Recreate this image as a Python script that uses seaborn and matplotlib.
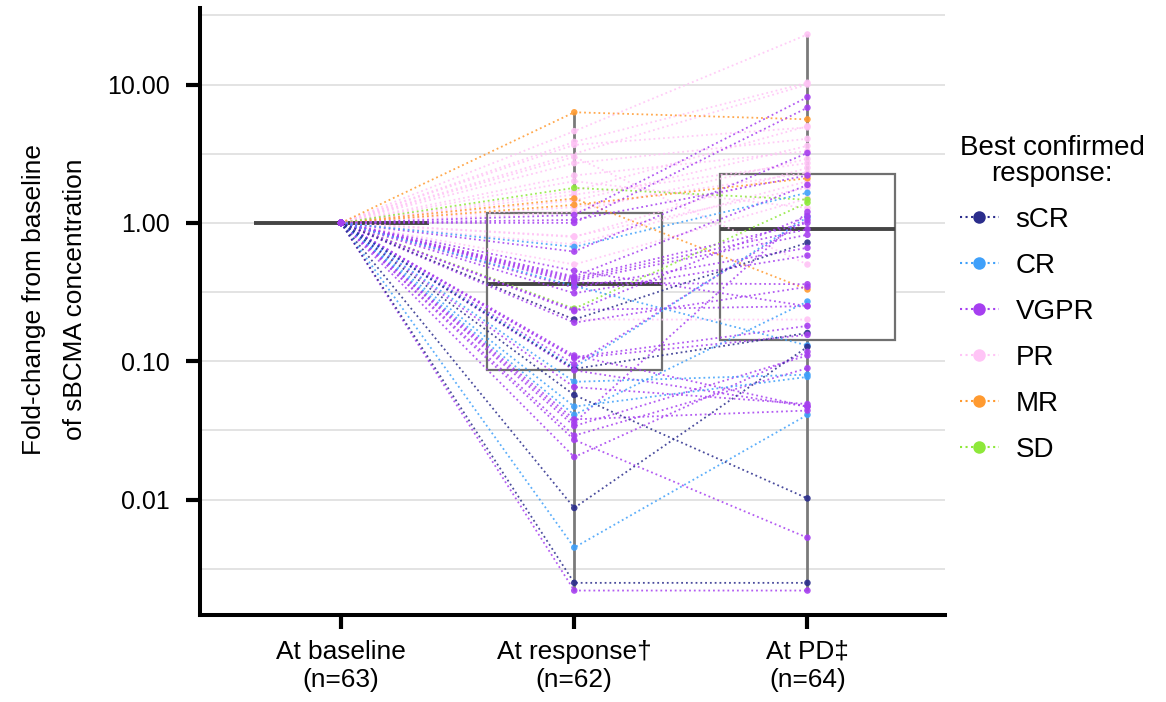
import numpy as np
import pandas as pd
import matplotlib
matplotlib.use("Agg")
import matplotlib.pyplot as plt
import seaborn as sns
from matplotlib import font_manager
from matplotlib.lines import Line2D
from matplotlib.ticker import FixedLocator, NullFormatter

# ---------------- data ----------------
timepoints = ["At baseline", "At response", "At PD"]
tick_labels = ["At baseline\n(n=63)", "At response\u2020\n(n=62)", "At PD\u2021\n(n=64)"]
response_levels = ["sCR", "CR", "VGPR", "PR", "MR", "SD"]
response_colors = ["#2b2d8c", "#3fa0fa", "#a63ff0", "#ffc4f6", "#ff9a30", "#8ee83a"]
y_ticks = [0.01, 0.1, 1, 10]
y_tick_labels = ["0.01", "0.10", "1.00", "10.00"]
baseline_value = 1.0

best_response = (["sCR"] * 5 + ["CR"] * 7 + ["VGPR"] * 28 + ["PR"] * 18 + ["MR"] * 3 + ["SD"] * 2)
fold_change_at_response = [
    # sCR
    0.0025, 0.0087, 0.057, 0.20, 0.088,
    # CR
    0.0045, 0.67, 0.071, 0.047, 0.041, 0.09, 0.35,
    # VGPR
    1.14, 1.0, 0.62, 0.41, 0.39, 0.38, 0.37, 0.34, 0.31, 0.235, 0.23, 0.19, 0.107, 0.105,
    0.086, 0.065, 0.038, 0.034, 0.029, 0.027, 0.0203, 0.0022, 0.11, 0.4, 0.45, 0.095, 0.036, 1.05,
    # PR
    4.6, 3.85, 3.66, 2.7, 1.6, 0.79, 0.2, 1.3, 2.0, 3.0, 1.45, np.nan, 1.2, 0.8, 0.5, 1.7, 2.2, 0.7,
    # MR
    6.3, 1.35, 1.5,
    # SD
    1.79, 0.24,
]
fold_change_at_pd = [
    # sCR
    0.0025, 0.127, 0.0102, 0.72, 0.16,
    # CR
    0.041, 1.65, 0.08, 0.077, 0.27, 1.1, 0.13,
    # VGPR
    8.1, 6.8, 3.2, 1.88, 0.90, 0.82, 0.36, 0.66, 0.58, 0.25, 1.12, 0.345, 0.18, 0.155,
    0.047, 0.049, 0.044, 0.11, 0.089, 0.0053, 0.117, 0.0022, 0.047, 1.0, 0.25, 1.05, 1.2, 2.2,
    # PR
    23.0, 10.3, 4.9, 4.05, 2.7, 2.5, 0.2, 2.3, 1.28, 0.5, 3.6, 10.0, 2.9, 1.8, 1.5, 5.0, 3.3, 2.0,
    # MR
    5.6, 2.1, 0.33,
    # SD
    1.47, 1.4,
]

# ---------------- long-form table ----------------
rows = []
for pid, (cat, r, p) in enumerate(zip(best_response, fold_change_at_response, fold_change_at_pd)):
    for t, v in zip(timepoints, [baseline_value, r, p]):
        rows.append({"pid": pid, "best": cat, "timepoint": t,
                     "xpos": float(timepoints.index(t)), "value": v})
df = pd.DataFrame(rows)
df_valid = df.dropna(subset=["value"])

# ---------------- style ----------------
sns.set_theme(style="white")
names = {f.name for f in font_manager.fontManager.ttflist}
narrow = "Liberation Sans Narrow" if "Liberation Sans Narrow" in names else "Liberation Sans"
narrow_scale = 1.0 if narrow == "Liberation Sans Narrow" else 0.86
plt.rcParams["font.family"] = ["Liberation Sans", "DejaVu Sans"]
for k in ["text.color", "axes.labelcolor", "xtick.color", "ytick.color"]:
    plt.rcParams[k] = "black"

palette = dict(zip(response_levels, response_colors))

fig = plt.figure(figsize=(11.66, 7.02), dpi=100)
ax = fig.add_axes([0.1715, 0.124, 0.639, 0.865])
ax.set_yscale("log")

sns.boxplot(data=df_valid, x="xpos", y="value", native_scale=True, ax=ax,
            whis=(0, 100), width=0.75, color="white", saturation=1,
            linecolor="#707070", linewidth=1.6, showcaps=False, fliersize=0,
            medianprops=dict(color="#454545", linewidth=2.8),
            whiskerprops=dict(color="#7a7a7a", linewidth=2.0))

draw_order = ["PR", "MR", "SD", "VGPR", "CR", "sCR"]
sns.lineplot(data=df_valid, x="xpos", y="value", hue="best", hue_order=draw_order,
             units="pid", estimator=None, sort=False, palette=palette,
             linestyle=":", linewidth=1.3, alpha=0.85, legend=False, ax=ax, zorder=2.5)

scatter_order = ["PR", "MR", "SD", "CR", "sCR", "VGPR"]
df_pts = df_valid.assign(rank=df_valid["best"].map({c: i for i, c in enumerate(scatter_order)}))
df_pts = df_pts.sort_values("rank", kind="stable")
sns.scatterplot(data=df_pts, x="xpos", y="value", hue="best", hue_order=scatter_order,
                palette=palette, s=22, linewidth=0, alpha=0.9, legend=False, ax=ax, zorder=3)

# ---------------- axes ----------------
ax.set_xlim(-0.605, 2.59)
ax.set_ylim(10 ** -2.834, 10 ** 1.555)
ax.set_xticks(range(len(timepoints)))
ax.set_xticklabels(tick_labels, family=narrow, fontsize=22 * narrow_scale, linespacing=1.2)
ax.set_yticks(y_ticks)
ax.set_yticklabels(y_tick_labels, fontsize=18)
ax.yaxis.set_minor_locator(FixedLocator(10 ** np.arange(-2.5, 2.0, 1.0)))
ax.yaxis.set_minor_formatter(NullFormatter())
ax.tick_params(axis="both", which="major", direction="out", length=10, width=3,
               color="black", left=True, bottom=True)
ax.tick_params(axis="y", which="major", pad=12)
ax.tick_params(axis="x", which="major", pad=8)
ax.tick_params(axis="y", which="minor", length=0)
ax.grid(False)
ax.yaxis.grid(True, which="both", color="#dedede", linewidth=1.2)
ax.set_axisbelow(True)
for s in ["top", "right"]:
    ax.spines[s].set_visible(False)
for s in ["left", "bottom"]:
    ax.spines[s].set_color("black")
    ax.spines[s].set_linewidth(2.9)

ax.set_xlabel("")
ax.set_ylabel("Fold-change from baseline\nof sBCMA concentration",
              family=narrow, fontsize=22 * narrow_scale, linespacing=1.9)
ax.yaxis.set_label_coords(-0.152, 0.52)

handles = [Line2D([], [], color=c, linestyle=":", linewidth=1.5, marker="o",
                  markersize=9, markeredgewidth=0) for c in response_colors]
leg = ax.legend(handles, response_levels, title="Best confirmed\nresponse:",
                loc="center left", bbox_to_anchor=(1.005, 0.52), frameon=False,
                fontsize=20, title_fontsize=20, handlelength=1.4, handletextpad=0.6,
                labelspacing=0.72, borderaxespad=0.0)
leg.get_title().set_linespacing(1.0)
leg.get_title().set_multialignment("center")
leg._legend_box.align = "left"

fig.savefig("out.png", dpi=100)
